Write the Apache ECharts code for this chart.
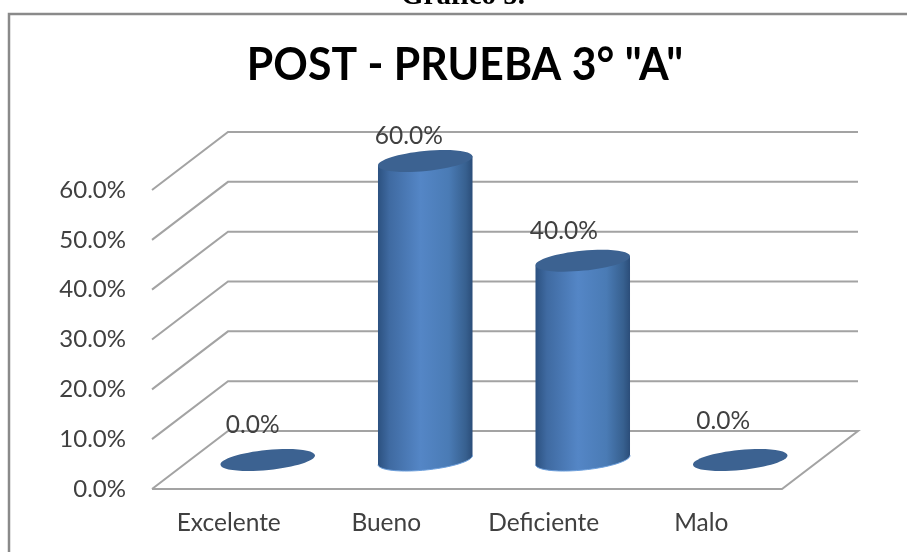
<!DOCTYPE html>
<html>
<head>
<meta charset="utf-8">
<style>
  html, body { margin: 0; padding: 0; background: #fff; }
  #chart { width: 907px; height: 552px; }
</style>
<script src="https://cdn.jsdelivr.net/npm/echarts@6/dist/echarts.min.js"></script>
</head>
<body>
<div id="chart"></div>
<script>
var categories = ['Excelente', 'Bueno', 'Deficiente', 'Malo']
var values = [0, 60, 40, 0]
var ticks = [0, 10, 20, 30, 40, 50, 60]

// profundidad del grafico 3D
var depthX = 76
var depthY = 58
var cylinderShift = 37
var radiusX = 47.5
var radiusY = 10
var tilt = 0.1
// ajuste de cada etiqueta respecto al centro de la tapa
var labelNudge = [[-15, -35], [-16.5, -25], [-19, -30], [-17, -39]]

var font = 'Lato'

function pct (v) {
  return v.toFixed(1) + '%'
}

function ellipsePoint (cx, cy, t) {
  var ex = radiusX * Math.cos(t)
  var ey = radiusY * Math.sin(t)
  return [
    cx + ex * Math.cos(tilt) + ey * Math.sin(tilt),
    cy - ex * Math.sin(tilt) + ey * Math.cos(tilt)
  ]
}

function renderWall (params, api) {
  var val = api.value(0)
  var box = params.coordSys
  var y = api.coord([0, val])[1]
  var left = box.x
  var right = box.x + box.width
  var lineStyle = { stroke: '#a3a3a3', lineWidth: 2, fill: null }
  var pts = [[left, y], [left + depthX, y - depthY], [right + depthX, y - depthY]]
  // el piso se cierra por delante
  if (val === 0) pts.push([right, y], [left, y])
  return { type: 'polyline', shape: { points: pts }, style: lineStyle, silent: true }
}

function renderCylinder (params, api) {
  var idx = api.value(0)
  var val = api.value(1)
  var base = api.coord([idx, 0])
  var top = api.coord([idx, val])
  var cx = base[0] + cylinderShift
  var by = base[1] - depthY / 2
  var ty = top[1] - depthY / 2
  var children = []
  if (val > 0) {
    var arc = []
    for (var i = 0; i <= 40; i++) {
      arc.push(ellipsePoint(cx, by, Math.PI * i / 40))
    }
    children.push({
      type: 'polygon',
      shape: { points: arc.concat([ellipsePoint(cx, ty, Math.PI), ellipsePoint(cx, ty, 0)]) },
      style: {
        fill: new echarts.graphic.LinearGradient(0, 0, 1, 0, [
          { offset: 0, color: '#2c5180' },
          { offset: 0.12, color: '#3f6aa1' },
          { offset: 0.45, color: '#5486c6' },
          { offset: 0.75, color: '#4a7bb5' },
          { offset: 0.93, color: '#37608f' },
          { offset: 1, color: '#2b4d79' }
        ])
      }
    })
    children.push({
      type: 'polyline',
      shape: { points: arc },
      style: { stroke: '#6c9fdc', lineWidth: 1, fill: null }
    })
  }
  children.push({
    type: 'ellipse',
    x: cx,
    y: ty,
    rotation: tilt,
    shape: { cx: 0, cy: 0, rx: radiusX, ry: radiusY },
    style: { fill: '#3c6291' }
  })
  children.push({
    type: 'text',
    x: cx + labelNudge[idx][0],
    y: ty + labelNudge[idx][1],
    style: {
      text: pct(val),
      fill: '#404040',
      font: '24.5px ' + font,
      align: 'center',
      verticalAlign: 'middle'
    }
  })
  return { type: 'group', children: children }
}

var myChart = echarts.init(document.getElementById('chart'))
var option = {
  backgroundColor: '#fff',
  animation: false,
  grid: { left: 152, right: 125, top: 190, bottom: 63 },
  graphic: [
    {
      type: 'rect',
      silent: true,
      shape: { x: 9, y: 14, width: 1000, height: 1000 },
      style: { fill: '#fff', stroke: '#8a8a8a', lineWidth: 2.5 },
      z: -1
    },
    {
      type: 'text',
      x: 463,
      y: 11,
      style: {
        text: 'Gráfico 5.',
        fill: '#000',
        font: 'bold 29px "Liberation Serif"',
        align: 'center',
        verticalAlign: 'bottom'
      }
    },
    {
      type: 'text',
      x: 465,
      y: 65,
      scaleX: 0.93,
      style: {
        text: 'POST - PRUEBA 3° "A"',
        fill: '#000',
        font: 'bold 46px ' + font,
        align: 'center',
        verticalAlign: 'middle'
      }
    }
  ],
  xAxis: {
    type: 'category',
    data: categories,
    axisLine: { show: false },
    axisTick: { show: false },
    axisLabel: { color: '#404040', fontFamily: font, fontSize: 24.5, margin: 22, padding: [0, 4, 0, 0] }
  },
  yAxis: {
    type: 'value',
    min: 0,
    max: 60,
    interval: 10,
    axisLine: { show: false },
    axisTick: { show: false },
    splitLine: { show: false },
    axisLabel: { color: '#404040', fontFamily: font, fontSize: 24, margin: 26, padding: [5, 0, 0, 0], formatter: pct }
  },
  series: [
    {
      type: 'custom',
      renderItem: renderWall,
      coordinateSystem: 'cartesian2d',
      encode: { y: 0 },
      data: ticks.map(function (t) { return [t] }),
      silent: true,
      z: 1
    },
    {
      type: 'custom',
      renderItem: renderCylinder,
      coordinateSystem: 'cartesian2d',
      encode: { x: 0, y: 1 },
      data: values.map(function (v, i) { return [i, v] }),
      z: 2
    }
  ]
}
myChart.setOption(option, true)
</script>
</body>
</html>
